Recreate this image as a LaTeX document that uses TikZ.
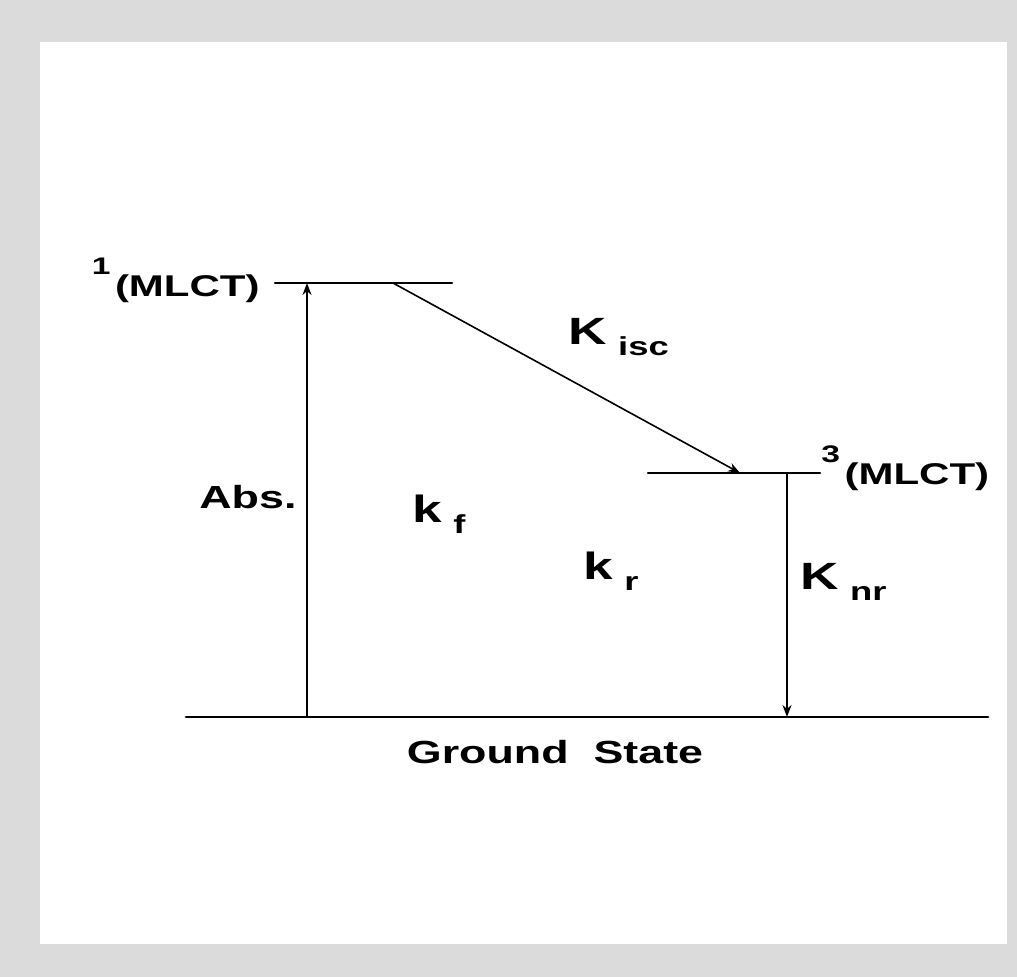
\documentclass[tikz,border=0pt]{standalone}
\usepackage{fontspec}
\setmainfont{Liberation Sans}[FakeStretch=1.4]
\usetikzlibrary{arrows.meta}
\newcommand{\rate}[2]{#1\hspace{0.3em}\raisebox{-0.5ex}{\fontsize{13}{13}\selectfont #2}}
\newcommand{\spin}[1]{\raisebox{11pt}{\fontsize{12}{12}\selectfont #1}\hspace{0.15em}(MLCT)}

\begin{document}
\begin{tikzpicture}[x=0.5pt,y=-0.5pt,>={Stealth[length=6pt,width=4.5pt]},font=\bfseries\fontsize{16}{19}\selectfont,line cap=round]
\fill[gray!28] (0,0) rectangle (1017,977);
\fill[white] (40,42) rectangle (1007,944);
\useasboundingbox (0,0) rectangle (1017,977);
% levels
\coordinate (s1l) at (275,283);
\coordinate (s1r) at (452,283);
\coordinate (t1l) at (648,473);
\coordinate (t1r) at (820,473);
\coordinate (gl) at (186,717);
\coordinate (gr) at (988,717);
\draw[line width=1.2pt] (s1l) -- (s1r);
\draw[line width=1.2pt] (t1l) -- (t1r);
\draw[line width=1.4pt] (gl) -- (gr);
% arrow ends
\coordinate (absb) at (307,717);
\coordinate (abst) at (307,283);
\coordinate (iscs) at (393,283);
\coordinate (isce) at (740,473);
\coordinate (nrt) at (787,473);
\coordinate (nrb) at (787,717);
\draw[->,line width=0.8pt] (absb) -- (abst);
\draw[->,line width=0.8pt] (iscs) -- (isce);
\draw[->,line width=0.8pt] (nrt) -- (nrb);
% labels
\node[anchor=base east,inner sep=0pt,font=\bfseries\fontsize{15}{18}\selectfont] (s1) at (260,297) {\spin{1}};
\node[anchor=base west,inner sep=0pt,font=\bfseries\fontsize{15}{18}\selectfont] (t1) at (821,485) {\spin{3}};
\node[anchor=base west,inner sep=0pt] (abs) at (199,509) {Abs.};
\node[anchor=base,inner sep=0pt] (gs) at (555,763) {Ground\ \ State};
\node[anchor=base west,inner sep=0pt,font=\bfseries\fontsize{19}{19}\selectfont] (kisc) at (568,345) {\rate{K}{isc}};
\node[anchor=base west,inner sep=0pt,font=\bfseries\fontsize{19}{19}\selectfont] (kf) at (412,523) {\rate{k}{f}};
\node[anchor=base west,inner sep=0pt,font=\bfseries\fontsize{19}{19}\selectfont] (kr) at (583,580) {\rate{k}{r}};
\node[anchor=base west,inner sep=0pt,font=\bfseries\fontsize{19}{19}\selectfont] (knr) at (800,590) {\rate{K}{nr}};
\end{tikzpicture}
\end{document}
